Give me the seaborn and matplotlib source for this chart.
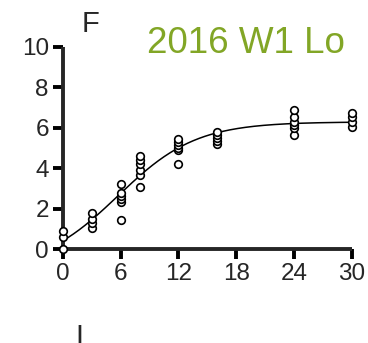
import numpy as np
import pandas as pd
import matplotlib
matplotlib.use("Agg")
import matplotlib.pyplot as plt
import seaborn as sns

# Replicate measurements at each time point
days = [0, 3, 6, 8, 12, 16, 24, 30]
values = [
    [0.0, 0.6, 0.9],
    [1.02, 1.3, 1.5, 1.77],
    [1.46, 2.34, 2.46, 2.62, 2.76, 3.23],
    [3.05, 3.66, 3.93, 4.21, 4.41, 4.58],
    [4.22, 4.9, 5.02, 5.15, 5.3, 5.47],
    [5.18, 5.35, 5.5, 5.62, 5.78],
    [5.64, 5.98, 6.15, 6.3, 6.55, 6.86],
    [6.02, 6.3, 6.55, 6.75],
]
x_ticks = [0, 6, 12, 18, 24, 30]
y_ticks = [0, 2, 4, 6, 8, 10]
title = "2016 W1 Lo"

df = pd.DataFrame(
    [(d, v) for d, vs in zip(days, values) for v in vs], columns=["day", "value"]
)


def logistic(x, p):
    bottom, top, x0, k = p
    return bottom + (top - bottom) / (1.0 + np.exp(-k * (x - x0)))


# Four-parameter logistic fit by Gauss-Newton with a numerical Jacobian
xd = df["day"].to_numpy(float)
yd = df["value"].to_numpy(float)
p = np.array([0.0, 6.4, 7.0, 0.3])
for _ in range(200):
    r = yd - logistic(xd, p)
    J = np.empty((xd.size, p.size))
    for j in range(p.size):
        dp = np.zeros_like(p)
        dp[j] = 1e-6 * max(1.0, abs(p[j]))
        J[:, j] = (logistic(xd, p + dp) - logistic(xd, p - dp)) / (2 * dp[j])
    step, *_ = np.linalg.lstsq(J, r, rcond=None)
    p = p + 0.5 * step
    if np.max(np.abs(step)) < 1e-10:
        break

xf = np.linspace(0, 30, 300)
fit = pd.DataFrame({"day": xf, "value": logistic(xf, p)})

sns.set_style("ticks")
plt.rcParams["font.family"] = ["Liberation Sans", "DejaVu Sans"]

fig = plt.figure(figsize=(3.68, 3.43), dpi=100)
ax = fig.add_axes([0.1704, 0.274, 0.7853, 0.589])

sns.lineplot(data=fit, x="day", y="value", color="black", linewidth=1.1, ax=ax)
sns.scatterplot(
    data=df, x="day", y="value", ax=ax, s=30, facecolor="white",
    edgecolor="black", linewidth=1.2, zorder=5, clip_on=False,
)

ax.set_xlim(0, 30)
ax.set_ylim(0, 10)
ax.set_xticks(x_ticks)
ax.set_yticks(y_ticks)
ax.set_xlabel("")
ax.set_ylabel("")
sns.despine(ax=ax)
for s in ("left", "bottom"):
    ax.spines[s].set_linewidth(2.8)
    ax.spines[s].set_capstyle("butt")
ax.tick_params(width=2.8, length=7, labelsize=17.5, pad=3, color="black")

fig.text(0.3995, 0.845, title, color="#82A626", fontsize=26.5, ha="left", va="baseline")
fig.text(0.223, 0.907, "F", fontsize=21, ha="left", va="baseline")
fig.text(0.206, -0.006, "I", fontsize=21, ha="left", va="baseline")

fig.savefig("out.png", dpi=100)
